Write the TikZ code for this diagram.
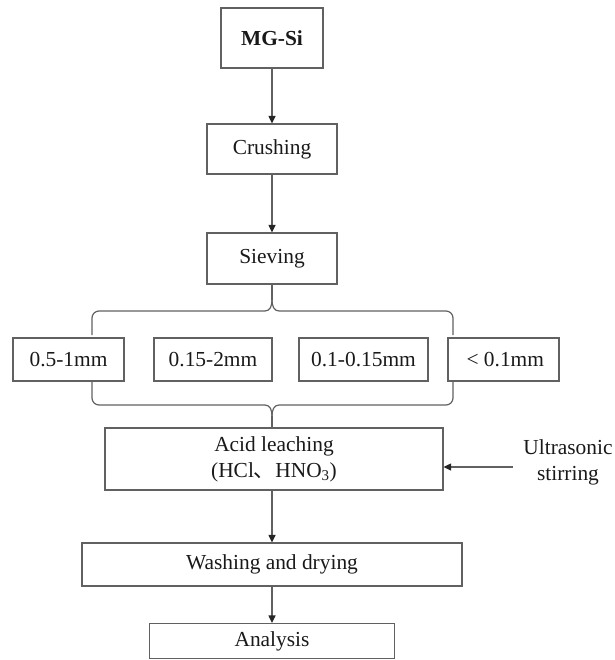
\documentclass[tikz,border=0pt]{standalone}
\usepackage{fontspec}
\setmainfont{Liberation Serif}
\newfontfamily\cjk{Noto Sans CJK SC}
\usetikzlibrary{arrows.meta}
\tikzset{
  ln/.style={draw=black!62, line width=1.2pt},
  box/.style={ln, rectangle, inner sep=0pt, align=center, text=black!90,
    font=\fontsize{21.4}{26}\selectfont},
  arr/.style={ln, -{Triangle[length=7.5pt,width=7pt,color=black!85]}},
}
\begin{document}
\begin{tikzpicture}[x=1pt,y=-1pt]
\useasboundingbox (0,0) rectangle (614,660);
\node[box, minimum width=102, minimum height=60] (mg) at (272,38) {\textbf{MG-Si}};
\node[box, minimum width=130, minimum height=50] (crush) at (272,149) {Crushing};
\node[box, minimum width=130, minimum height=51] (sieve) at (272,258.5) {Sieving};
\node[box, minimum width=111, minimum height=43] (s1) at (68.5,359.5) {0.5-1mm};
\node[box, minimum width=118, minimum height=43] (s2) at (213,359.5) {0.15-2mm};
\node[box, minimum width=129, minimum height=43] (s3) at (363.5,359.5) {0.1-0.15mm};
\node[box, minimum width=111, minimum height=43] (s4) at (503.5,359.5) {\,< 0.1mm};
\node[box, minimum width=338, minimum height=62] (acid) at (274,459)
  {Acid leaching\\(HCl{\cjk 、}HNO\textsubscript{3})};
\node[box, minimum width=380, minimum height=43] (wash) at (272,564.5) {Washing and drying};
\node[box, minimum width=245, minimum height=35] (ana) at (272,641) {Analysis};
\node[align=center, inner sep=0pt, text=black!90, font=\fontsize{21.4}{26}\selectfont] (us) at (568,462) {Ultrasonic\\stirring};

\coordinate (tipA) at (272,300);
\coordinate (tipB) at (272,416);

\draw[arr] (mg) -- (crush);
\draw[arr] (crush) -- (sieve);
\draw[arr] (tipB |- acid.south) -- (tipB |- wash.north);
\draw[arr] (wash) -- (ana);
\coordinate (usin) at (513,467);
\draw[arr] (usin) -- (acid.east |- usin);

% top brace
\draw[ln] (sieve.south) -- (tipA);
\draw[ln, rounded corners=7pt] (92,335) -- (92,311) -- (265,311);
\draw[ln] (265,311) .. controls (270,311) and (272,306) .. (tipA);
\draw[ln, rounded corners=7pt] (453,335) -- (453,311) -- (279,311);
\draw[ln] (279,311) .. controls (274,311) and (272,306) .. (tipA);

% bottom brace
\draw[ln] (tipB) -- (tipB |- acid.north);
\draw[ln, rounded corners=7pt] (92,382) -- (92,405) -- (265,405);
\draw[ln] (265,405) .. controls (270,405) and (272,410) .. (tipB);
\draw[ln, rounded corners=7pt] (453,382) -- (453,405) -- (279,405);
\draw[ln] (279,405) .. controls (274,405) and (272,410) .. (tipB);
\end{tikzpicture}
\end{document}
